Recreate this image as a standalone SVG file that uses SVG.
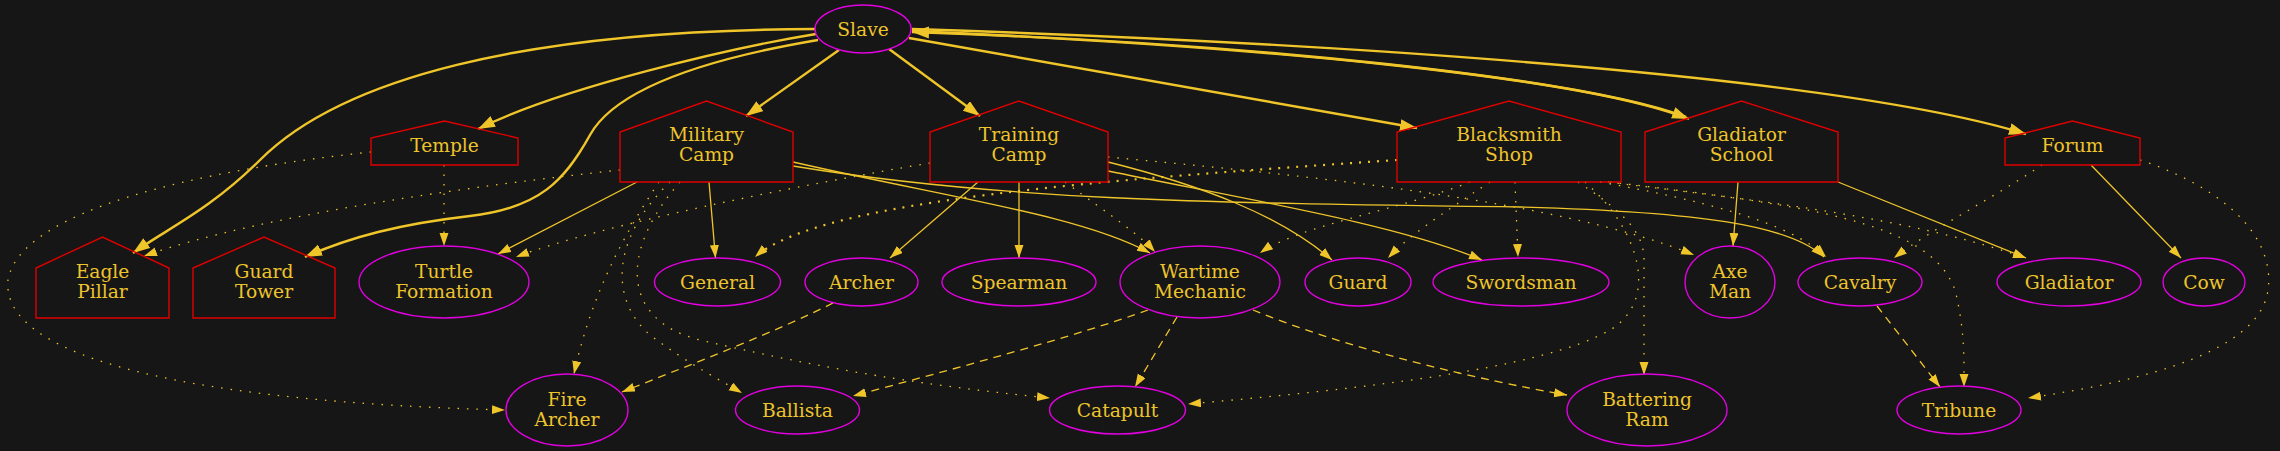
<svg xmlns="http://www.w3.org/2000/svg" width="2280" height="451" viewBox="0 0 2280 451">
<style>
.bg{fill:#161616}
.h{fill:none;stroke:#e00000;stroke-width:1.4}
.e{fill:none;stroke:#e000e0;stroke-width:1.4}
text{font-family:"DejaVu Serif","Liberation Serif",serif;font-size:18.67px;fill:#eec42c;text-anchor:middle}
.c{fill:none;stroke:#efc52a}
.k{stroke-width:2.4}
.s{stroke-width:1.3}
.d{stroke-width:1.3;stroke-dasharray:1.5,8}
.db{stroke-width:2.2;stroke-dasharray:2,7}
.da{stroke-width:1.3;stroke-dasharray:8,6}
</style>
<defs>
<marker id="at" markerUnits="userSpaceOnUse" markerWidth="14" markerHeight="10" refX="13" refY="4.5" orient="auto"><path d="M0,0 L13,4.5 L0,9 z" fill="#efc52a"/></marker>
<marker id="ak" markerUnits="userSpaceOnUse" markerWidth="18" markerHeight="13" refX="17" refY="6" orient="auto"><path d="M0,0 L17,6 L0,12 z" fill="#efc52a"/></marker>
</defs>
<rect class="bg" x="0" y="0" width="2280" height="451"/>
<g id="edges">
<path class="c k" marker-end="url(#ak)" d="M815,29 C520,30 340,80 260,160 C210,210 165,230 133,253"/>
<path class="c k" marker-end="url(#ak)" d="M816,34 C730,48 560,88 478,129"/>
<path class="c k" marker-end="url(#ak)" d="M818,40 C700,60 615,90 590,135 C565,180 540,208 470,216 C400,224 350,237 305,257"/>
<path class="c k" marker-end="url(#ak)" d="M839,50 L746,116"/>
<path class="c k" marker-end="url(#ak)" d="M889,49 L980,116"/>
<path class="c k" marker-end="url(#ak)" d="M909,38 L1417,128"/>
<path class="c k" marker-end="url(#ak)" d="M912,31 C1250,46 1580,76 1689,119"/>
<path class="c k" marker-end="url(#ak)" d="M1686,117 C1580,78 1250,43 912,32"/>
<path class="c k" marker-end="url(#ak)" d="M912,29 C1400,45 1850,80 2026,134"/>
<path class="c s" marker-end="url(#at)" d="M709,182 L715.5,258"/>
<path class="c s" marker-end="url(#at)" d="M637,182 L498,254"/>
<path class="c s" marker-end="url(#at)" d="M793,162 C950,198 1080,215 1150,253"/>
<path class="c s" marker-end="url(#at)" d="M793,166 C1000,200 1200,203 1520,207 C1700,212 1790,225 1824,257"/>
<path class="c s" marker-end="url(#at)" d="M978,182 L890,258"/>
<path class="c s" marker-end="url(#at)" d="M1019,182 L1019,258"/>
<path class="c s" marker-end="url(#at)" d="M1108,162 C1200,185 1280,215 1332,260"/>
<path class="c s" marker-end="url(#at)" d="M1108,171 C1250,200 1400,225 1482,260"/>
<path class="c s" marker-end="url(#at)" d="M1738,182 L1733,246"/>
<path class="c s" marker-end="url(#at)" d="M1838,182 L2026,258"/>
<path class="c s" marker-end="url(#at)" d="M2091,165 L2181,258"/>
<path class="c da" marker-end="url(#at)" d="M833,303 C780,330 690,365 622,392"/>
<path class="c da" marker-end="url(#at)" d="M1148,310 C1080,335 950,370 853,396"/>
<path class="c da" marker-end="url(#at)" d="M1177,317 L1135,387"/>
<path class="c da" marker-end="url(#at)" d="M1253,310 C1350,350 1480,380 1567,395"/>
<path class="c da" marker-end="url(#at)" d="M1877,306 L1940,387"/>
<path class="c d" marker-end="url(#at)" d="M444,165 L444,246"/>
<path class="c d" marker-end="url(#at)" d="M371,152 C200,170 20,210 8,280 C0,360 200,402 505,410"/>
<path class="c d" marker-end="url(#at)" d="M620,170 C480,185 260,215 144,256"/>
<path class="c d" marker-end="url(#at)" d="M659,182 C620,240 590,300 574,374"/>
<path class="c d" marker-end="url(#at)" d="M670,182 C610,240 610,300 650,335 C690,365 720,380 742,393"/>
<path class="c d" marker-end="url(#at)" d="M680,182 C620,250 620,320 700,340 C850,375 950,388 1050,398"/>
<path class="c d" marker-end="url(#at)" d="M930,163 C800,185 600,225 516,257"/>
<path class="c db" marker-end="url(#at)" d="M1397,160 C1100,180 820,200 755,257"/>
<path class="c d" marker-end="url(#at)" d="M1065,182 C1110,215 1140,235 1155,252"/>
<path class="c d" marker-end="url(#at)" d="M1108,157 C1300,175 1560,200 1694,255"/>
<path class="c d" marker-end="url(#at)" d="M1470,182 C1400,210 1300,225 1260,253"/>
<path class="c d" marker-end="url(#at)" d="M1490,182 C1440,215 1410,235 1388,258"/>
<path class="c d" marker-end="url(#at)" d="M1515,182 L1518,257"/>
<path class="c d" marker-end="url(#at)" d="M1578,182 C1620,210 1644,230 1644,260 L1644,375"/>
<path class="c d" marker-end="url(#at)" d="M1585,182 C1640,230 1660,300 1610,330 C1540,370 1350,390 1188,404"/>
<path class="c d" marker-end="url(#at)" d="M1600,182 C1700,200 1790,222 1826,257"/>
<path class="c d" marker-end="url(#at)" d="M1608,182 C1750,200 1900,215 2026,258"/>
<path class="c d" marker-end="url(#at)" d="M1610,182 C1800,205 1930,220 1955,290 C1965,330 1964,360 1964,387"/>
<path class="c d" marker-end="url(#at)" d="M2042,165 C1990,200 1930,230 1894,258"/>
<path class="c d" marker-end="url(#at)" d="M2140,160 C2230,190 2275,240 2268,290 C2260,350 2150,380 2028,398"/>
</g>
<g id="slave"><ellipse class="e" cx="863" cy="29" rx="48" ry="24"/><text x="863" y="35.5">Slave</text></g>
<g id="temple"><polygon class="h" points="371,165 518,165 518,138 444.5,121 371,138"/><text x="444.5" y="151.5">Temple</text></g>
<g id="military-camp"><polygon class="h" points="620,182 793,182 793,132 706.5,101 620,132"/><text x="706.5" y="141">Military</text><text x="706.5" y="160.5">Camp</text></g>
<g id="training-camp"><polygon class="h" points="930,182 1108,182 1108,132 1019,101 930,132"/><text x="1019" y="141">Training</text><text x="1019" y="160.5">Camp</text></g>
<g id="blacksmith-shop"><polygon class="h" points="1397,182 1621,182 1621,132 1509,101 1397,132"/><text x="1509" y="141">Blacksmith</text><text x="1509" y="160.5">Shop</text></g>
<g id="gladiator-school"><polygon class="h" points="1645,182 1838,182 1838,132 1741.5,101 1645,132"/><text x="1741.5" y="141">Gladiator</text><text x="1741.5" y="160.5">School</text></g>
<g id="forum"><polygon class="h" points="2005,165 2140,165 2140,138 2072.5,121 2005,138"/><text x="2072.5" y="151.5">Forum</text></g>
<g id="eagle-pillar"><polygon class="h" points="36,318 169,318 169,268 102.5,237 36,268"/><text x="102.5" y="278">Eagle</text><text x="102.5" y="297.5">Pillar</text></g>
<g id="guard-tower"><polygon class="h" points="193,318 335,318 335,268 264,237 193,268"/><text x="264" y="278">Guard</text><text x="264" y="297.5">Tower</text></g>
<g id="turtle-formation"><ellipse class="e" cx="444" cy="282" rx="85" ry="36"/><text x="444" y="278">Turtle</text><text x="444" y="297.5">Formation</text></g>
<g id="general"><ellipse class="e" cx="717.5" cy="282" rx="63" ry="24"/><text x="717.5" y="288.5">General</text></g>
<g id="archer"><ellipse class="e" cx="861.5" cy="282" rx="56.5" ry="24"/><text x="861.5" y="288.5">Archer</text></g>
<g id="spearman"><ellipse class="e" cx="1019" cy="282" rx="77" ry="24"/><text x="1019" y="288.5">Spearman</text></g>
<g id="wartime-mechanic"><ellipse class="e" cx="1200" cy="282" rx="80" ry="36"/><text x="1200" y="278">Wartime</text><text x="1200" y="297.5">Mechanic</text></g>
<g id="guard"><ellipse class="e" cx="1358" cy="282" rx="53" ry="24"/><text x="1358" y="288.5">Guard</text></g>
<g id="swordsman"><ellipse class="e" cx="1521" cy="282" rx="88" ry="24"/><text x="1521" y="288.5">Swordsman</text></g>
<g id="axe-man"><ellipse class="e" cx="1730" cy="282" rx="45" ry="36"/><text x="1730" y="278">Axe</text><text x="1730" y="297.5">Man</text></g>
<g id="cavalry"><ellipse class="e" cx="1860" cy="282" rx="62" ry="24"/><text x="1860" y="288.5">Cavalry</text></g>
<g id="gladiator"><ellipse class="e" cx="2069" cy="282" rx="72" ry="24"/><text x="2069" y="288.5">Gladiator</text></g>
<g id="cow"><ellipse class="e" cx="2204" cy="282" rx="41" ry="24"/><text x="2204" y="288.5">Cow</text></g>
<g id="fire-archer"><ellipse class="e" cx="567" cy="410" rx="61" ry="36"/><text x="567" y="406">Fire</text><text x="567" y="425.5">Archer</text></g>
<g id="ballista"><ellipse class="e" cx="797.5" cy="410" rx="62" ry="24"/><text x="797.5" y="416.5">Ballista</text></g>
<g id="catapult"><ellipse class="e" cx="1117.5" cy="410" rx="68" ry="24"/><text x="1117.5" y="416.5">Catapult</text></g>
<g id="battering-ram"><ellipse class="e" cx="1647" cy="410" rx="80" ry="36"/><text x="1647" y="406">Battering</text><text x="1647" y="425.5">Ram</text></g>
<g id="tribune"><ellipse class="e" cx="1959" cy="410" rx="62" ry="24"/><text x="1959" y="416.5">Tribune</text></g>
</svg>
